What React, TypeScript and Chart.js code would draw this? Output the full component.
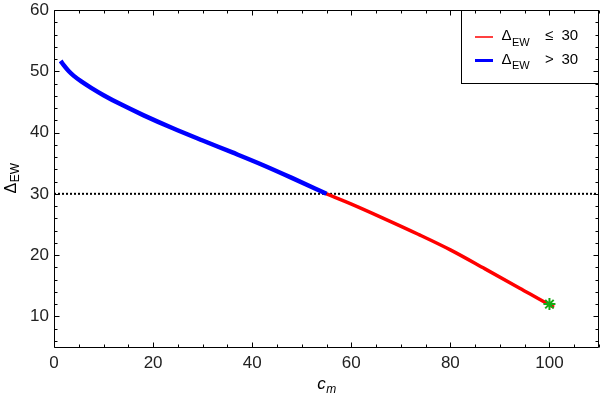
import React, { useEffect, useRef } from "react";
import { Chart, registerables } from "chart.js";

Chart.register(...registerables);

// ---- data ----
const blueX = [1.35, 2.0, 3.0, 4.0, 5.5, 7.5, 10.0, 13.5, 18.0, 24.0, 30.0, 36.0, 42.0, 48.0, 55.0];
const blueY = [51.7, 50.95, 50.0, 49.25, 48.35, 47.3, 46.1, 44.6, 42.85, 40.7, 38.7, 36.75, 34.75, 32.6, 30.0];
const redX = [55.0, 59.8, 66.5, 73.5, 80.0, 87.0, 94.0, 99.5, 100.9];
const redY = [30.0, 28.4, 26.0, 23.4, 20.85, 17.75, 14.6, 12.1, 11.5];
const thresholdX = [0, 110];
const thresholdY = [30, 30];
const markerX = [100];
const markerY = [12];
const xTicks = [0, 20, 40, 60, 80, 100];
const yTicks = [10, 20, 30, 40, 50, 60];
const xMinorStep = 5;
const yMinorStep = 2;

const FONT = '"Liberation Sans", Arial, sans-serif';

const toPts = (xs: number[], ys: number[]) => xs.map((x, i) => ({ x, y: ys[i] }));

const framePlugin = {
  id: "framePlugin",
  afterDraw(chart: any) {
    const { ctx, chartArea: a, scales } = chart;
    const xs = scales.x;
    const ys = scales.y;
    ctx.save();

    // legend box
    const lx = 461, ly = Math.round(a.top), lw = Math.round(a.right) - 461, lh = 73;
    ctx.fillStyle = "#fff";
    ctx.fillRect(lx, ly, lw, lh);
    ctx.strokeStyle = "#000";
    ctx.lineWidth = 1;
    ctx.strokeRect(lx + 0.5, ly + 0.5, lw - 1, lh);

    // frame
    const L = Math.round(a.left) + 0.5;
    const R = Math.round(a.right) - 0.5;
    const T = Math.round(a.top) + 0.5;
    const B = Math.round(a.bottom) + 0.5;
    ctx.strokeStyle = "#000";
    ctx.lineWidth = 1;
    ctx.beginPath();
    ctx.rect(L, T, R - L, B - T);
    ctx.stroke();

    // ticks (inward)
    ctx.beginPath();
    for (let v = xs.min; v <= xs.max; v += xMinorStep) {
      const major = xTicks.includes(v);
      const len = major ? 5 : 3;
      const px = Math.round(xs.getPixelForValue(v)) + 0.5;
      ctx.moveTo(px, B);
      ctx.lineTo(px, B - len);
      ctx.moveTo(px, T);
      ctx.lineTo(px, T + len);
    }
    for (let v = 6; v <= ys.max; v += yMinorStep) {
      const major = yTicks.includes(v);
      const len = major ? 5 : 3;
      const py = Math.round(ys.getPixelForValue(v)) + 0.5;
      ctx.moveTo(L, py);
      ctx.lineTo(L + len, py);
      ctx.moveTo(R, py);
      ctx.lineTo(R - len, py);
    }
    ctx.stroke();

    // legend entries
    const entries = [
      { color: "rgb(255,0,0)", width: 1.5, op: "\u2264", y: 37 },
      { color: "rgb(0,0,255)", width: 3, op: ">", y: 60.5 },
    ];
    ctx.textBaseline = "alphabetic";
    ctx.textAlign = "left";
    entries.forEach((e) => {
      ctx.strokeStyle = e.color;
      ctx.lineWidth = e.width;
      ctx.beginPath();
      ctx.moveTo(475, e.y);
      ctx.lineTo(493, e.y);
      ctx.stroke();
      ctx.fillStyle = "#000";
      ctx.font = `15px ${FONT}`;
      const base = e.y + 3;
      ctx.fillText("\u0394", 501.5, base);
      const dw = ctx.measureText("\u0394").width;
      ctx.font = `11px ${FONT}`;
      ctx.fillText("EW", 501.5 + dw + 0.5, base + 5.5);
      ctx.font = `15px ${FONT}`;
      ctx.fillText(e.op, 545, base);
      ctx.fillText("30", 561.5, base);
    });

    // y axis title (rotated)
    ctx.save();
    ctx.fillStyle = "#000";
    ctx.font = `16px ${FONT}`;
    const wD = ctx.measureText("\u0394").width;
    ctx.font = `12px ${FONT}`;
    const wE = ctx.measureText("EW").width;
    const cy = (a.top + a.bottom) / 2;
    ctx.translate(15.5, cy + (wD + wE) / 2);
    ctx.rotate(-Math.PI / 2);
    ctx.font = `16px ${FONT}`;
    ctx.fillText("\u0394", 0, 0);
    ctx.font = `12px ${FONT}`;
    ctx.fillText("EW", wD + 0.5, 3.5);
    ctx.restore();

    // x axis title
    ctx.fillStyle = "#000";
    ctx.font = `italic 17px ${FONT}`;
    const wc = ctx.measureText("c").width;
    ctx.font = `italic 12px ${FONT}`;
    const wm = ctx.measureText("m").width;
    const cx = (a.left + a.right) / 2 - (wc + wm) / 2;
    ctx.font = `italic 17px ${FONT}`;
    ctx.fillText("c", cx, 389);
    ctx.font = `italic 12px ${FONT}`;
    ctx.fillText("m", cx + wc + 0.5, 393);

    ctx.restore();
  },
};

const zeroPad = (s: any) => {
  s.paddingLeft = 0;
  s.paddingRight = 0;
  s.paddingTop = 0;
  s.paddingBottom = 0;
};

export default function App() {
  const ref = useRef<HTMLCanvasElement | null>(null);
  useEffect(() => {
    if (!ref.current) return;
    const chart = new Chart(ref.current, {
      type: "line",
      data: {
        datasets: [
          {
            label: "marker",
            data: toPts(markerX, markerY),
            showLine: false,
            pointStyle: "star",
            pointRadius: 6,
            pointBorderWidth: 2,
            pointBorderColor: "rgb(20,170,20)",
            pointBackgroundColor: "rgb(20,170,20)",
            order: 0,
          },
          {
            label: "ΔEW > 30",
            data: toPts(blueX, blueY),
            borderColor: "rgb(0,0,255)",
            borderWidth: 4.5,
            pointRadius: 0,
            cubicInterpolationMode: "monotone",
            order: 1,
          },
          {
            label: "ΔEW ≤ 30",
            data: toPts(redX, redY),
            borderColor: "rgb(255,0,0)",
            borderWidth: 3.5,
            pointRadius: 0,
            cubicInterpolationMode: "monotone",
            order: 2,
          },
          {
            label: "threshold",
            data: toPts(thresholdX, thresholdY),
            borderColor: "#000",
            borderWidth: 2,
            borderDash: [2, 2],
            pointRadius: 0,
            order: 3,
          },
        ],
      },
      options: {
        animation: false,
        responsive: false,
        devicePixelRatio: 1,
        layout: { autoPadding: false, padding: { top: 10, right: 1, left: 0, bottom: 0 } },
        plugins: { legend: { display: false }, tooltip: { enabled: false } },
        scales: {
          x: {
            type: "linear",
            min: 0,
            max: 110,
            grid: { display: false, drawTicks: false },
            border: { display: false },
            ticks: {
              font: { family: FONT, size: 17 },
              color: "#222",
              padding: 6,
              maxRotation: 0,
            },
            afterBuildTicks: (s: any) => {
              s.ticks = xTicks.map((v) => ({ value: v }));
            },
            afterFit: (s: any) => {
              s.height = 52;
              zeroPad(s);
            },
          },
          y: {
            type: "linear",
            min: 5,
            max: 60,
            grid: { display: false, drawTicks: false },
            border: { display: false },
            ticks: {
              font: { family: FONT, size: 17 },
              color: "#222",
              padding: 5,
            },
            afterBuildTicks: (s: any) => {
              s.ticks = yTicks.map((v) => ({ value: v }));
            },
            afterFit: (s: any) => {
              s.width = 54;
              zeroPad(s);
            },
          },
        },
      },
      plugins: [framePlugin],
    });
    return () => chart.destroy();
  }, []);
  return (
    <div style={{ position: "fixed", left: 0, top: 0, width: 600, height: 399, background: "#fff" }}>
      <canvas ref={ref} width={600} height={399} />
    </div>
  );
}
